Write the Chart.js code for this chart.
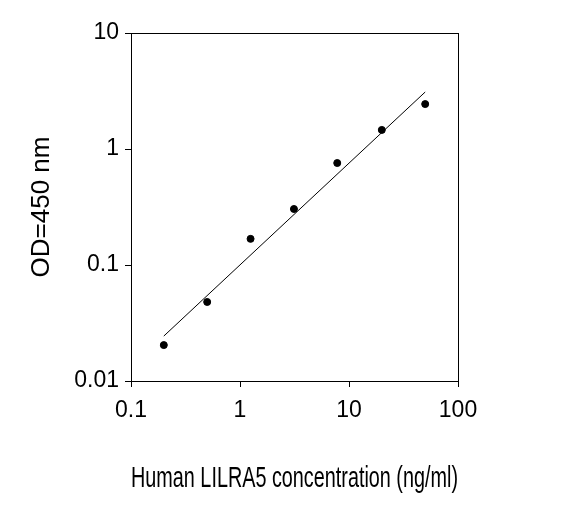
<!DOCTYPE html>
<html><head><script src="https://cdn.jsdelivr.net/npm/chart.js@4"></script>
<style>body{margin:0;background:#fff}</style></head><body>
<canvas id="c" width="569" height="516"></canvas>
<script>
const concentrations=[0.2,0.5,1.25,3.125,7.8,20,50];
const odValues=[0.0204,0.048,0.168,0.304,0.757,1.46,2.44];
const fitX=[0.2,50];
const fitY=[0.0244,3.1];
const xTicks=[0.1,1,10,100];
const yTicks=[0.01,0.1,1,10];
const boxPlugin={id:'box',afterDraw(c){const a=c.chartArea,g=c.ctx;g.save();g.strokeStyle='#000';g.lineWidth=1;g.strokeRect(a.left+0.5,a.top+0.5,a.right-a.left,a.bottom-a.top);g.restore();}};
new Chart(document.getElementById('c'),{
 type:'scatter',
 data:{datasets:[
  {data:concentrations.map((x,i)=>({x,y:odValues[i]})),backgroundColor:'#000',borderColor:'#000',pointRadius:3.5},
  {type:'line',data:fitX.map((x,i)=>({x,y:fitY[i]})),borderColor:'#000',borderWidth:1,pointRadius:0,fill:false}
 ]},
 plugins:[boxPlugin],
 options:{responsive:false,animation:false,
  layout:{padding:{left:26,right:111,top:33,bottom:0}},
  plugins:{legend:{display:false},tooltip:{enabled:false}},
  scales:{
   x:{type:'logarithmic',min:0.1,max:100,
    afterBuildTicks:s=>{s.ticks=xTicks.map(v=>({value:v}))},
    afterFit:s=>{s.height=135},
    ticks:{color:'#000',font:{family:'Arial, Liberation Sans',size:23},callback:v=>String(v),maxRotation:0,padding:10},
    grid:{drawOnChartArea:false,tickLength:6,color:'#000'},border:{color:'#000'},
    title:{display:true,text:'Human LILRA5 concentration (ng/ml)',color:'#000',font:{family:'Arial, Liberation Sans',size:29},padding:{top:0,bottom:20}}},
   y:{type:'logarithmic',min:0.01,max:10,
    afterBuildTicks:s=>{s.ticks=yTicks.map(v=>({value:v}))},
    afterFit:s=>{s.width=105},
    ticks:{color:'#000',font:{family:'Arial, Liberation Sans',size:23},callback:v=>String(v),padding:6},
    grid:{drawOnChartArea:false,tickLength:6,color:'#000'},border:{color:'#000'},
    title:{display:true,text:'OD=450 nm',color:'#000',font:{family:'Arial, Liberation Sans',size:26},padding:0}}
  }}
});
</script></body></html>
